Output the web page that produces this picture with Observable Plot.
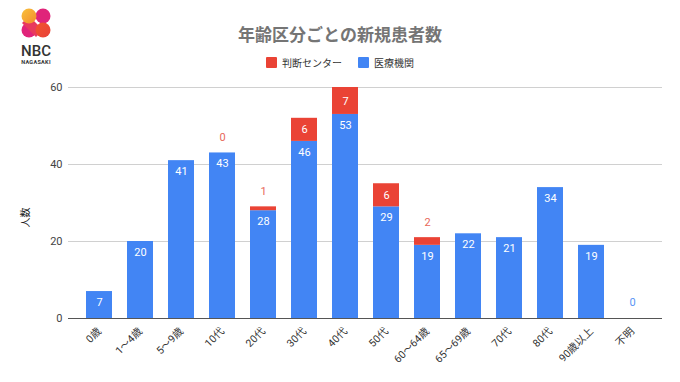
<!DOCTYPE html>
<html><head><meta charset="utf-8">
<script src="https://cdn.jsdelivr.net/npm/d3@7"></script>
<script src="https://cdn.jsdelivr.net/npm/@observablehq/plot@0.6"></script>
<style>
body{margin:0;background:#fff;font-family:Roboto,"Noto Sans CJK JP",sans-serif;}
#wrap{position:relative;width:680px;height:382px;overflow:hidden;}
#chart{position:absolute;left:0;top:0;}
#title{position:absolute;left:0;width:680px;top:21px;text-align:center;font-size:17px;font-weight:bold;color:#757575;font-family:"Noto Sans CJK JP",sans-serif;}
#legend{position:absolute;left:0;width:680px;top:55px;text-align:center;font-size:10px;color:#333;font-family:"Noto Sans CJK JP",sans-serif;}
#legend span.sw{display:inline-block;width:11px;height:11px;vertical-align:-1px;margin-right:5px;border-radius:1px;}
#legend span.it{margin:0 8px;}
#ylab{position:absolute;left:14px;top:210px;transform:rotate(-90deg);font-size:10px;color:#222;font-family:"Noto Sans CJK JP",sans-serif;}
#logo{position:absolute;left:0;top:0;}
</style></head>
<body><div id="wrap">
<div id="chart"></div>
<svg id="logo" width="80" height="70">
 <defs><linearGradient id="g1" x1="0" y1="0" x2="1" y2="1"><stop offset="0" stop-color="#f9c23c"/><stop offset="1" stop-color="#f28b2c"/></linearGradient>
 <linearGradient id="g2" x1="0" y1="0" x2="1" y2="1"><stop offset="0" stop-color="#f2542d"/><stop offset="1" stop-color="#e8413a"/></linearGradient></defs>
 <circle cx="29" cy="30" r="7.5" fill="#e0247a"/>
 <circle cx="43" cy="16" r="7.5" fill="#e0247a"/>
 <path d="M29 16 L43 30 L36 37 L22 23Z" fill="#e83a5e"/>
 <circle cx="29" cy="16" r="7.5" fill="url(#g1)"/>
 <circle cx="43" cy="30" r="7.5" fill="url(#g2)"/>
 <text x="36" y="56" text-anchor="middle" font-family="Roboto" font-size="15" font-weight="500" fill="#333">NBC</text>
 <text x="36" y="64" text-anchor="middle" font-family="Roboto" font-size="5.5" font-weight="bold" fill="#333" letter-spacing="0.3">NAGASAKI</text>
</svg>
<div id="title">年齢区分ごとの新規患者数</div>
<div id="legend"><span class="it"><span class="sw" style="background:#ea4335"></span>判断センター</span><span class="it"><span class="sw" style="background:#4285f4"></span>医療機関</span></div>
<div id="ylab">人数</div>
</div>
<script>
const categories = ["0歳","1～4歳","5～9歳","10代","20代","30代","40代","50代","60～64歳","65～69歳","70代","80代","90歳以上","不明"];
const clinic = [7,20,41,43,28,46,53,29,19,22,21,34,19,0];
const center = [null,null,null,0,1,6,7,6,2,null,null,null,null,null];
const yTicks = [0,20,40,60];
const seriesNames = ["判断センター","医療機関"];
const colors = ["#ea4335","#4285f4"];

const rows = [];
categories.forEach((c,i)=>{
  rows.push({cat:c, series:"医療機関", v:clinic[i], order:0});
  if (center[i] !== null) rows.push({cat:c, series:"判断センター", v:center[i], order:1});
});
// labels
const blueIn = [], blueOut = [], redIn = [], redOut = [];
categories.forEach((c,i)=>{
  if (clinic[i] > 0) blueIn.push({cat:c, y:clinic[i], t:String(clinic[i])});
  else blueOut.push({cat:c, y:clinic[i], t:String(clinic[i])});
  if (center[i] !== null) {
    if (center[i] >= 3) redIn.push({cat:c, y:clinic[i]+center[i]/2, t:String(center[i])});
    else redOut.push({cat:c, y:clinic[i]+center[i], t:String(center[i])});
  }
});

const chart = Plot.plot({
  width:680, height:382,
  marginTop:87, marginBottom:64, marginLeft:68, marginRight:18,
  style:{fontFamily:'Roboto,"Noto Sans CJK JP",sans-serif', fontSize:"11px", color:"#333", background:"transparent"},
  x:{domain:categories, padding:0.37, label:null},
  y:{domain:[0,60], label:null},
  color:{domain:seriesNames, range:colors},
  marks:[
    Plot.gridY(yTicks.slice(1), {stroke:"#d0d0d0", strokeOpacity:1}),
    Plot.barY(rows, Plot.stackY({x:"cat", y:"v", fill:"series", order:(d)=>d.order})),
    Plot.ruleY([0], {stroke:"#555"}),
    Plot.axisY(yTicks, {tickSize:0, tickPadding:6, label:null, fontSize:11, fill:"#444"}),
    Plot.axisX({tickSize:0, tickPadding:11, tickRotate:-45, label:null, fontSize:10.5, fill:"#333"}),
    Plot.text(blueIn, {x:"cat", y:"y", text:"t", dy:11, fill:"white", fontSize:11}),
    Plot.text(blueOut, {x:"cat", y:"y", text:"t", dy:-16, fill:"#5a95f5", fontSize:11}),
    Plot.text(redIn, {x:"cat", y:"y", text:"t", fill:"white", fontSize:11}),
    Plot.text(redOut, {x:"cat", y:"y", text:"t", dy:-15, fill:"#e8685a", fontSize:11})
  ]
});
document.getElementById("chart").appendChild(chart);
</script>
</body></html>
